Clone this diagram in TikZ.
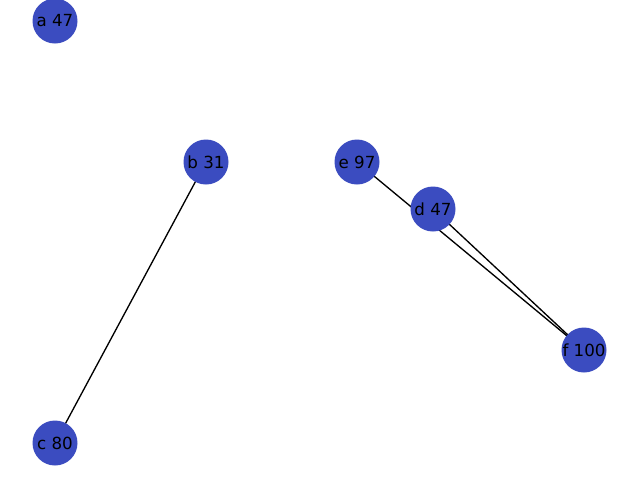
\documentclass[tikz,border=0pt]{standalone}
\usepackage{fontspec}
\setmainfont{DejaVu Sans}
\definecolor{nodeblue}{HTML}{3B4CC0}
\begin{document}
\begin{tikzpicture}[x=0.75pt,y=-0.75pt,
  vertex/.style={circle,fill=nodeblue,draw=none,minimum size=33.75pt,inner sep=0pt,font=\fontsize{12.5}{15}\selectfont},
  edge/.style={black,line width=1pt}]
\fill[white] (0,0) rectangle (640,480);
\useasboundingbox (0,0) rectangle (640,480);
\coordinate (pa) at (55,21);
\coordinate (pb) at (206,162);
\coordinate (pc) at (55,443);
\coordinate (pe) at (357,162);
\coordinate (pd) at (433,209);
\coordinate (pf) at (584,350);
\draw[edge] (pb) -- (pc);
\draw[edge] (pe) -- (pf);
\draw[edge] (pd) -- (pf);
\node[vertex] (a) at (pa) {a 47};
\node[vertex] (b) at (pb) {b 31};
\node[vertex] (c) at (pc) {c 80};
\node[vertex] (e) at (pe) {e 97};
\node[vertex] (d) at (pd) {d 47};
\node[vertex] (f) at (pf) {f 100};
\end{tikzpicture}
\end{document}
